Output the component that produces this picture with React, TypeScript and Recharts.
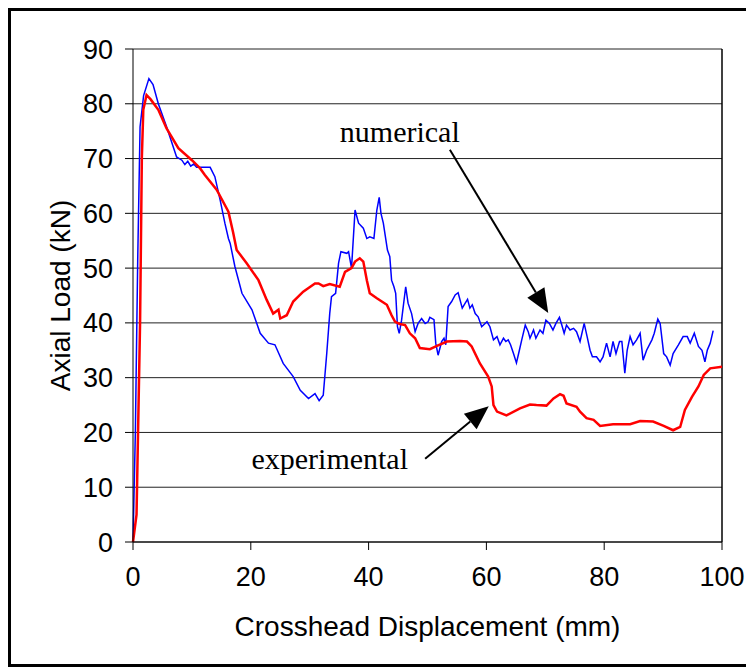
import {
  LineChart,
  Line,
  XAxis,
  YAxis,
  CartesianGrid,
  ReferenceLine,
  ReferenceDot,
} from "recharts";

// crosshead displacement (mm) / axial load (kN)
const numericalX = [
  0, 0.4, 0.8, 1.2, 1.8, 2.7, 3.4, 4.3, 5.7, 7.4, 8.3, 8.8, 9.3, 9.8, 10.3, 10.8, 11.4, 13.1, 13.9, 14.8,
  15.6, 16.2, 16.5, 17.3, 18.5, 20.2, 21.6, 23.0, 24.1, 25.5, 27.2, 28.4, 29.8, 30.9, 31.6, 32.3, 32.9, 33.4,
  33.7, 34.4, 34.9, 35.3, 36.3, 36.6, 37.1, 37.7, 38.3, 39.1, 39.7, 40.2, 40.9, 41.4, 41.8, 42.1, 42.5, 43.2,
  43.6, 43.9, 44.3, 44.6, 44.9, 45.2, 45.6, 46.3, 46.7, 47.3, 47.9, 48.4, 49.0, 49.6, 50.1, 50.4, 51.1, 51.4,
  51.8, 52.4, 52.8, 53.1, 53.5, 54.1, 54.7, 55.2, 55.9, 56.4, 56.8, 57.2, 57.6, 58.1, 58.6, 59.2, 60.1, 60.6,
  61.2, 61.8, 62.3, 62.9, 63.3, 63.7, 64.1, 64.6, 65.1, 65.6, 66.0, 66.6, 67.1, 67.4, 68.0, 68.4, 69.1, 69.6,
  70.1, 70.7, 71.3, 71.8, 72.4, 72.8, 73.2, 73.6, 74.2, 74.8, 75.3, 75.9, 76.6, 77.1, 77.6, 78.0, 78.7, 79.3,
  79.8, 80.4, 81.0, 81.5, 82.0, 82.6, 83.0, 83.5, 83.9, 84.4, 84.9, 85.5, 86.1, 86.6, 87.2, 88.1, 88.5, 89.1,
  89.5, 90.1, 90.6, 91.2, 91.7, 92.6, 93.4, 94.1, 94.6, 95.3, 96.0, 96.6, 97.1, 97.5, 98.0, 98.5,
];
const numericalY = [
  0, 20, 51.5, 75.8, 81.5, 84.6, 83.5, 80, 75.8, 70.3, 69.7, 68.9, 69.5, 68.6, 69.0, 68.4, 68.4, 68.4, 66.7, 62.4,
  58.2, 55.4, 54.5, 50.3, 45.4, 42.4, 38.1, 36.3, 36.0, 32.6, 30.2, 27.7, 26.2, 27.1, 25.8, 26.8, 34.5, 41.7,
  44.8, 45.4, 50.9, 53.0, 52.7, 53.0, 50.0, 60.6, 58.2, 57.3, 55.4, 55.7, 55.4, 60.6, 62.9, 60.0, 58.2, 53.3,
  52.1, 47.8, 46.6, 45.4, 39.3, 38.1, 40.5, 46.6, 43.6, 41.7, 38.4, 39.9, 40.8, 39.9, 40.2, 41.0, 40.6, 36.3,
  34.1, 36.6, 37.2, 36.0, 43.0, 43.9, 45.1, 45.5, 42.7, 43.6, 44.3, 42.7, 43.3, 41.7, 41.1, 39.3, 40.2, 39.3,
  36.9, 37.5, 36.0, 37.2, 36.6, 36.9, 36.0, 34.4, 32.7, 35.0, 36.9, 39.6, 38.4, 37.2, 38.7, 37.2, 38.7, 38.1,
  40.5, 39.9, 38.7, 39.9, 41.0, 39.6, 38.1, 39.6, 38.7, 39.0, 38.4, 36.6, 39.9, 37.5, 35.0, 33.8, 33.8, 32.9,
  33.8, 36.3, 33.8, 36.6, 34.4, 36.6, 36.6, 30.8, 35.0, 37.5, 36.0, 36.9, 38.1, 33.2, 35.0, 36.9, 38.1, 40.7,
  39.9, 34.4, 33.8, 32.3, 34.4, 36.0, 37.5, 37.5, 36.3, 38.1, 35.7, 35.0, 32.9, 35.0, 36.3, 38.6,
];

const experimentalX = [
  0, 0.6, 1.2, 1.5, 1.75, 2.3, 3.0, 4.3, 5.7, 7.7, 10.0, 11.4, 12.2, 14.2, 16.2, 17.0, 17.6, 19.3, 21.3, 22.7,
  23.8, 24.7, 25.0, 26.1, 27.2, 28.9, 30.1, 30.9, 31.5, 32.3, 33.4, 35.1, 36.0, 37.1, 37.7, 38.5, 39.1, 39.7,
  40.2, 41.4, 43.1, 43.9, 44.5, 45.3, 46.2, 47.0, 47.9, 48.7, 50.4, 51.6, 53.3, 55.5, 56.7, 57.5, 58.9, 60.3,
  60.9, 61.2, 61.8, 63.4, 65.7, 67.4, 68.5, 70.2, 71.4, 72.5, 73.1, 73.6, 75.3, 75.9, 77.0, 78.2, 79.3, 81.5,
  84.4, 86.1, 88.3, 90.1, 91.7, 92.9, 93.7, 94.9, 96.0, 96.9, 98.0, 100,
];
const experimentalY = [
  0, 5, 40, 70, 78.9, 81.6, 80.8, 78.9, 75.5, 71.9, 69.7, 68.2, 67.0, 64.3, 60.3, 56.5, 53.3, 50.9, 47.8, 44.2,
  41.7, 42.4, 40.8, 41.4, 43.9, 45.7, 46.6, 47.2, 47.2, 46.7, 47.1, 46.6, 49.3, 50.0, 51.2, 51.8, 51.2, 47.8,
  45.4, 44.5, 43.3, 41.4, 40.2, 39.8, 39.6, 38.1, 37.2, 35.4, 35.2, 35.8, 36.6, 36.7, 36.6, 35.7, 32.6, 30.2,
  28.4, 25.0, 23.8, 23.1, 24.4, 25.1, 25.0, 24.9, 26.2, 27.0, 26.7, 25.3, 24.7, 23.8, 22.6, 22.3, 21.2, 21.5,
  21.5, 22.1, 22.0, 21.2, 20.4, 21.0, 24.1, 26.5, 28.4, 30.5, 31.7, 32.0,
];

const xTicks = [0, 20, 40, 60, 80, 100];
const yTicks = [0, 10, 20, 30, 40, 50, 60, 70, 80, 90];

const numerical = numericalX.map((x, i) => ({ x, load: numericalY[i] }));
const experimental = experimentalX.map((x, i) => ({ x, load: experimentalY[i] }));

const sans = "'Liberation Sans', Arial, sans-serif";
const serif = "'Liberation Serif', 'Times New Roman', serif";

const Arrow = (props: any) => {
  const { x1, y1, x2, y2 } = props;
  const a = Math.atan2(y2 - y1, x2 - x1);
  const len = 24;
  const half = 10;
  const bx = x2 - len * Math.cos(a);
  const by = y2 - len * Math.sin(a);
  const pts = [
    `${x2},${y2}`,
    `${bx + half * Math.sin(a)},${by - half * Math.cos(a)}`,
    `${bx - half * Math.sin(a)},${by + half * Math.cos(a)}`,
  ].join(" ");
  return (
    <g>
      <line x1={x1} y1={y1} x2={bx} y2={by} stroke="#000" strokeWidth={2} />
      <polygon points={pts} fill="#000" />
    </g>
  );
};

export default function App() {
  return (
    <div
      style={{
        width: 743,
        height: 653,
        borderLeft: "3px solid #000",
        borderTop: "3px solid #000",
        borderBottom: "3px solid #000",
        background: "#fff",
      }}
    >
      <LineChart width={743} height={653} margin={{ top: 38, right: 32, bottom: 62, left: 0 }}>
        <CartesianGrid vertical={false} stroke="#222" strokeWidth={1} />
        <XAxis
          type="number"
          dataKey="x"
          domain={[0, 100]}
          ticks={xTicks}
          height={60}
          stroke="#000"
          tickSize={8}
          tickMargin={17}
          tick={{ fill: "#000", fontSize: 27, fontFamily: sans }}
          label={{
            value: "Crosshead Displacement (mm)",
            position: "bottom",
            offset: 14,
            style: { fill: "#000", fontSize: 28, fontFamily: sans },
          }}
        />
        <YAxis
          type="number"
          domain={[0, 90]}
          ticks={yTicks}
          width={122}
          stroke="#000"
          tickSize={8}
          tickMargin={12}
          tick={{ fill: "#000", fontSize: 27, fontFamily: sans }}
          label={{
            value: "Axial Load (kN)",
            angle: -90,
            position: "insideLeft",
            offset: 49,
            style: { fill: "#000", fontSize: 28, fontFamily: sans, textAnchor: "middle" },
          }}
        />
        <ReferenceLine x={100} stroke="#000" strokeWidth={1.5} />
        <Line
          data={numerical}
          dataKey="load"
          type="linear"
          stroke="#0000ff"
          strokeWidth={1.5}
          dot={false}
          isAnimationActive={false}
        />
        <Line
          data={experimental}
          dataKey="load"
          type="linear"
          stroke="#ff0000"
          strokeWidth={2.5}
          dot={false}
          isAnimationActive={false}
        />
        <ReferenceLine
          segment={[
            { x: 53.8, y: 71.6 },
            { x: 70.5, y: 41.8 },
          ]}
          shape={Arrow}
        />
        <ReferenceLine
          segment={[
            { x: 49.6, y: 15.2 },
            { x: 60.4, y: 24.8 },
          ]}
          shape={Arrow}
        />
        <ReferenceDot
          x={45.3}
          y={75}
          r={0}
          fill="none"
          stroke="none"
          label={{
            value: "numerical",
            position: "center",
            style: { fill: "#000", fontSize: 30, fontFamily: serif },
          }}
        />
        <ReferenceDot
          x={33.4}
          y={15.3}
          r={0}
          fill="none"
          stroke="none"
          label={{
            value: "experimental",
            position: "center",
            style: { fill: "#000", fontSize: 30, fontFamily: serif },
          }}
        />
      </LineChart>
    </div>
  );
}
